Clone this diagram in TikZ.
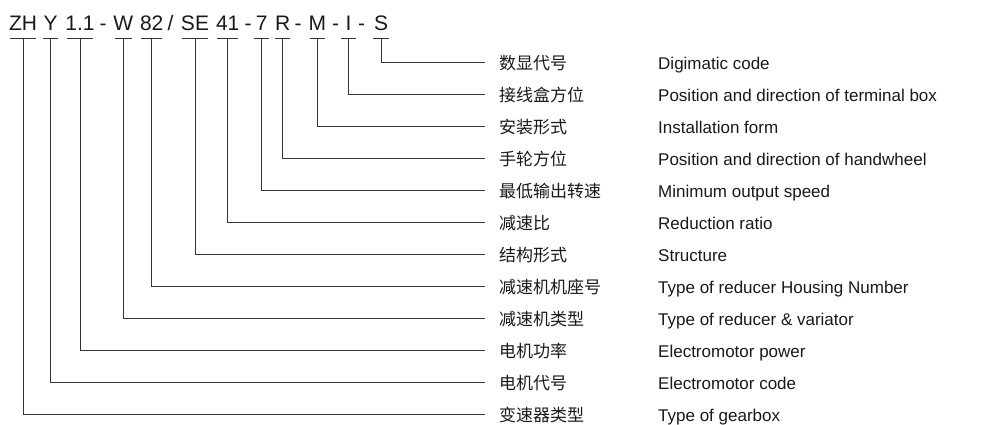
\documentclass[tikz,border=0pt]{standalone}
\usepackage{fontspec}
\setmainfont{Liberation Sans}
\newfontfamily\cjk{Noto Sans CJK SC}
\usetikzlibrary{positioning,calc}

% T-bar under a code part, then down and across to its label
\newcommand{\codetee}[2]{%
  \draw[conn] (#1.south west |- 0,38) -- (#1.south east |- 0,38);
  \draw[conn] (#1.south |- 0,38) |- ([xshift=-14pt]#2.west);
}

\begin{document}
\begin{tikzpicture}[x=1pt,y=-1pt,
  conn/.style={draw=black!80,line width=0.9pt},
  code/.style={anchor=base,inner xsep=-1.5pt,inner ysep=0pt,minimum width=15pt,text=black!90,font=\fontsize{21}{24}\selectfont},
  zhlab/.style={anchor=west,inner sep=0pt,text height=13pt,text depth=0pt,text=black!90,font=\cjk\fontsize{17}{20}\selectfont},
  enlab/.style={inner sep=0pt,text height=13pt,text depth=0pt,text=black!90,font=\fontsize{17}{20}\selectfont}]
  \useasboundingbox (0,0) rectangle (985,424);

  % the type code
  \node[code] (zh) at (23,30) {ZH};
  \node[code] (y) at (50.7,30) {Y};
  \node[code] (kw) at (80,30) {1.1};
  \node[code] (sep1) at (103,30) {-};
  \node[code] (w) at (123.3,30) {W};
  \node[code] (frame) at (151.7,30) {82};
  \node[code] (sep2) at (170.5,30) {/};
  \node[code] (se) at (195,30) {SE};
  \node[code] (ratio) at (227.7,30) {41};
  \node[code] (sep3) at (248,30) {-};
  \node[code] (rpm) at (261.7,30) {7};
  \node[code] (r) at (282.7,30) {R};
  \node[code] (sep4) at (298,30) {-};
  \node[code] (m) at (317.3,30) {M};
  \node[code] (sep5) at (335.5,30) {-};
  \node[code] (i) at (348.5,30) {I};
  \node[code] (sep6) at (361.5,30) {-};
  \node[code] (s) at (381,30) {S};

  % labels
  \node[zhlab] (digit) at (499,62.5) {数显代号};
  \node[zhlab] (box) at (499,94.5) {接线盒方位};
  \node[zhlab] (mount) at (499,126.5) {安装形式};
  \node[zhlab] (wheel) at (499,158.5) {手轮方位};
  \node[zhlab] (speed) at (499,190.5) {最低输出转速};
  \node[zhlab] (reduct) at (499,222.5) {减速比};
  \node[zhlab] (struct) at (499,254.5) {结构形式};
  \node[zhlab] (housing) at (499,286.5) {减速机机座号};
  \node[zhlab] (reducer) at (499,318.5) {减速机类型};
  \node[zhlab] (power) at (499,350.5) {电机功率};
  \node[zhlab] (motor) at (499,382.5) {电机代号};
  \node[zhlab] (gearbox) at (499,414.5) {变速器类型};

  \node[enlab, right=159pt of digit.west] (digit-en) {Digimatic code};
  \node[enlab, right=159pt of box.west] (box-en) {Position and direction of terminal box};
  \node[enlab, right=159pt of mount.west] (mount-en) {Installation form};
  \node[enlab, right=159pt of wheel.west] (wheel-en) {Position and direction of handwheel};
  \node[enlab, right=159pt of speed.west] (speed-en) {Minimum output speed};
  \node[enlab, right=159pt of reduct.west] (reduct-en) {Reduction ratio};
  \node[enlab, right=159pt of struct.west] (struct-en) {Structure};
  \node[enlab, right=159pt of housing.west] (housing-en) {Type of reducer Housing Number};
  \node[enlab, right=159pt of reducer.west] (reducer-en) {Type of reducer \& variator};
  \node[enlab, right=159pt of power.west] (power-en) {Electromotor power};
  \node[enlab, right=159pt of motor.west] (motor-en) {Electromotor code};
  \node[enlab, right=159pt of gearbox.west] (gearbox-en) {Type of gearbox};

  % connectors
  \codetee{s}{digit}
  \codetee{i}{box}
  \codetee{m}{mount}
  \codetee{r}{wheel}
  \codetee{rpm}{speed}
  \codetee{ratio}{reduct}
  \codetee{se}{struct}
  \codetee{frame}{housing}
  \codetee{w}{reducer}
  \codetee{kw}{power}
  \codetee{y}{motor}
  \codetee{zh}{gearbox}
\end{tikzpicture}
\end{document}
